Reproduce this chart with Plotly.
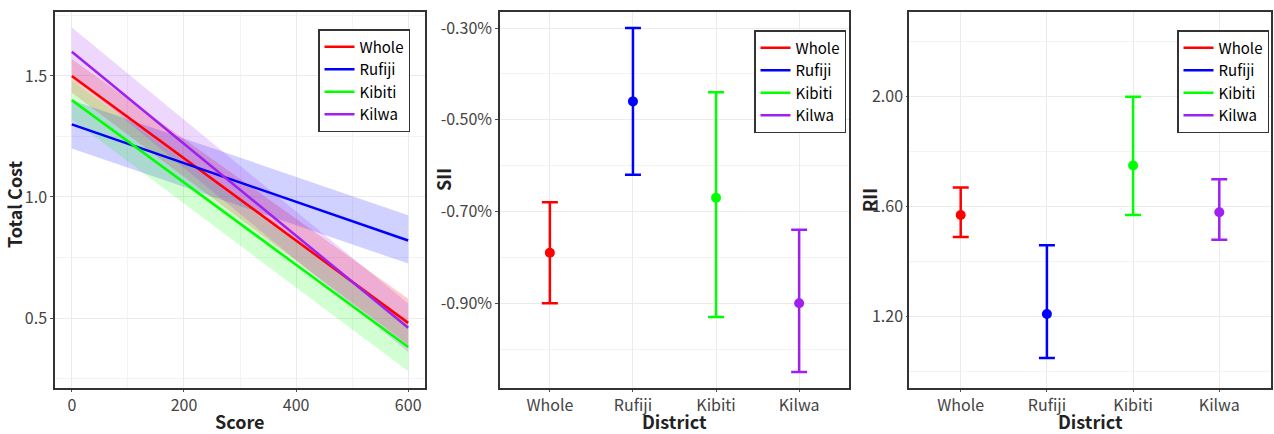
import plotly.graph_objects as go

# ---------------- data ----------------
districts = ["Whole", "Rufiji", "Kibiti", "Kilwa"]
colors = ["#FF0000", "#0000FF", "#00FF00", "#A020F0"]
band_colors = ["rgba(255,0,0,0.2)", "rgba(0,0,255,0.18)", "rgba(0,255,0,0.18)", "rgba(160,32,240,0.18)"]

score = [0, 600]
fit_whole = [1.50, 0.48]
lo_whole = [1.43, 0.39]
hi_whole = [1.57, 0.58]
fit_rufiji = [1.30, 0.82]
lo_rufiji = [1.20, 0.725]
hi_rufiji = [1.40, 0.925]
fit_kibiti = [1.40, 0.38]
lo_kibiti = [1.32, 0.28]
hi_kibiti = [1.48, 0.48]
fit_kilwa = [1.60, 0.46]
lo_kilwa = [1.50, 0.36]
hi_kilwa = [1.70, 0.56]

fits = [fit_whole, fit_rufiji, fit_kibiti, fit_kilwa]
los = [lo_whole, lo_rufiji, lo_kibiti, lo_kilwa]
his = [hi_whole, hi_rufiji, hi_kibiti, hi_kilwa]

sii_est = [-0.0079, -0.0046, -0.0067, -0.0090]
sii_lo = [-0.0090, -0.0062, -0.0093, -0.0105]
sii_hi = [-0.0068, -0.0030, -0.0044, -0.0074]
sii_ticks = [-0.009, -0.007, -0.005, -0.003]
sii_ticktext = ["-0.90%", "-0.70%", "-0.50%", "-0.30%"]

rii_est = [1.57, 1.21, 1.75, 1.58]
rii_lo = [1.49, 1.05, 1.57, 1.48]
rii_hi = [1.67, 1.46, 2.00, 1.70]

# ---------------- figure ----------------
W, H = 1274, 434
fig = go.Figure()

# panel 1: bands then lines
for i, d in enumerate(districts):
    fig.add_trace(go.Scatter(x=score, y=los[i], mode="lines", line=dict(width=0),
                             showlegend=False, hoverinfo="skip", xaxis="x", yaxis="y"))
    fig.add_trace(go.Scatter(x=score, y=his[i], mode="lines", line=dict(width=0),
                             fill="tonexty", fillcolor=band_colors[i],
                             showlegend=False, hoverinfo="skip", xaxis="x", yaxis="y"))
for i, d in enumerate(districts):
    fig.add_trace(go.Scatter(x=score, y=fits[i], mode="lines", name=d,
                             line=dict(color=colors[i], width=2.5),
                             legend="legend", xaxis="x", yaxis="y"))

# panels 2 and 3: error bars
def add_err(est, lo, hi, xa, ya, lg):
    for i, d in enumerate(districts):
        fig.add_trace(go.Scatter(
            x=[d], y=[est[i]], mode="markers",
            marker=dict(color=colors[i], size=10),
            error_y=dict(type="data", symmetric=False,
                         array=[hi[i] - est[i]], arrayminus=[est[i] - lo[i]],
                         color=colors[i], thickness=2.5, width=8),
            showlegend=False, xaxis=xa, yaxis=ya))
    for i, d in enumerate(districts):
        fig.add_trace(go.Scatter(x=[None], y=[None], mode="lines", name=d,
                                 line=dict(color=colors[i], width=2.5),
                                 legend=lg, xaxis=xa, yaxis=ya))

add_err(sii_est, sii_lo, sii_hi, "x2", "y2", "legend2")
add_err(rii_est, rii_lo, rii_hi, "x3", "y3", "legend3")

FONT = "Noto Sans CJK SC"
tickfont = dict(family=FONT, size=16, color="#444444")
grid = "#EBEBEB"
minor_grid = "#F3F3F3"
frame = "#333333"

def ax(domain, **kw):
    d = dict(domain=domain, showline=True, linecolor=frame, linewidth=1.5, mirror=True,
             showgrid=True, gridcolor=grid, gridwidth=1, zeroline=False,
             ticks="outside", ticklen=3, tickcolor="#4D4D4D", tickwidth=1,
             tickfont=tickfont)
    d.update(kw)
    return d

ydom = [1 - 388 / H, 1 - 12 / H]

fig.update_layout(
    width=W, height=H, margin=dict(l=0, r=0, t=0, b=0),
    paper_bgcolor="white", plot_bgcolor="white",
    font=dict(family=FONT, color="black"),
    xaxis=ax([55 / W, 425 / W], range=[-30, 630], tickvals=[0, 200, 400, 600], ticklen=2,
             minor=dict(tickvals=[100, 300, 500], showgrid=True, gridcolor=minor_grid, ticks="")),
    yaxis=ax(ydom, range=[0.211, 1.764], tickvals=[0.5, 1.0, 1.5], ticktext=["0.5", "1.0", "1.5"],
             minor=dict(tickvals=[0.25, 0.75, 1.25, 1.75], showgrid=True, gridcolor=minor_grid, ticks="")),
    xaxis2=ax([500 / W, 849 / W], type="category", categoryorder="array", categoryarray=districts,
              range=[-0.6, 3.6], anchor="y2", ticklen=2),
    yaxis2=ax(ydom, anchor="x2", range=[-0.01085, -0.00265],
              tickvals=sii_ticks, ticktext=sii_ticktext,
              minor=dict(tickvals=[-0.010, -0.008, -0.006, -0.004], showgrid=True, gridcolor=minor_grid, ticks="")),
    xaxis3=ax([909 / W, 1271 / W], type="category", categoryorder="array", categoryarray=districts,
              range=[-0.6, 3.6], anchor="y3", ticklen=2),
    yaxis3=ax(ydom, anchor="x3", range=[0.941, 2.308],
              tickvals=[1.2, 1.6, 2.0], tickformat=".2f", ticklen=1,
              minor=dict(tickvals=[1.0, 1.4, 1.8, 2.2], showgrid=True, gridcolor=minor_grid, ticks="")),
)

leg = dict(bgcolor="white", bordercolor=frame, borderwidth=1.5,
           font=dict(family=FONT, size=15, color="black"),
           xanchor="right", yanchor="top", itemwidth=30, tracegroupgap=0,
           traceorder="normal", itemclick=False, itemdoubleclick=False)
fig.update_layout(
    legend=dict(leg, x=410 / W, y=1 - 29 / H),
    legend2=dict(leg, x=846 / W, y=1 - 30 / H),
    legend3=dict(leg, x=1269 / W, y=1 - 30 / H),
)

titlefont = dict(family=FONT, size=18, color="#222222", weight="bold")
def ann(text, x, y, angle=0):
    fig.add_annotation(text=text, x=x / W, y=1 - y / H, xref="paper", yref="paper",
                       showarrow=False, textangle=angle, font=titlefont,
                       xanchor="center", yanchor="middle")

ann("Score", 240, 421)
ann("District", 674, 421)
ann("District", 1090, 421)
ann("Total Cost", 14, 204, -90)
ann("SII", 443, 180, -90)
ann("RII", 869, 200, -90)

fig.write_html("out.html")
